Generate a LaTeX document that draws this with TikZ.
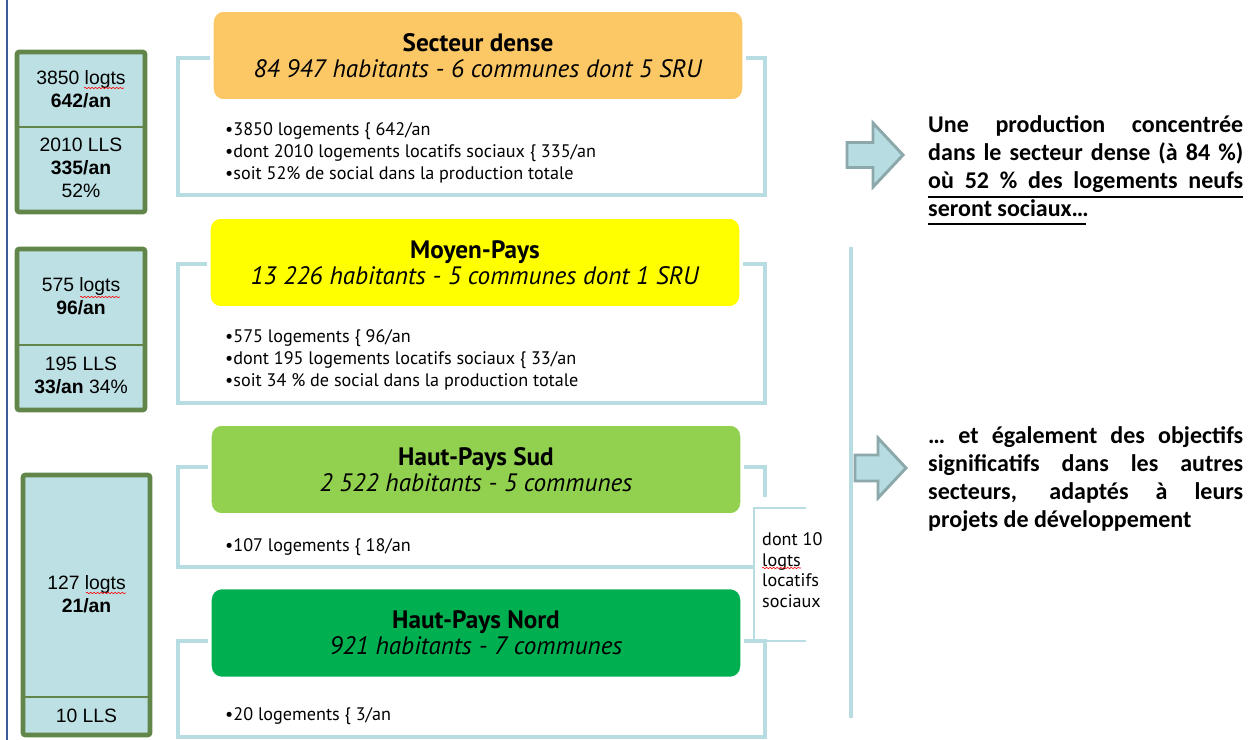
\documentclass[tikz,border=0pt]{standalone}
\usepackage{fontspec}
\setmainfont{PT Sans}
\newfontfamily\arialfont{Liberation Sans}
\newfontfamily\calibrifont{Carlito}
\usetikzlibrary{positioning,calc,decorations.pathmorphing}
\definecolor{framecyan}{RGB}{183,221,226}
\definecolor{boxcyan}{RGB}{189,224,228}
\definecolor{olivegreen}{RGB}{98,133,74}
\definecolor{densorange}{RGB}{252,200,102}
\definecolor{paysyellow}{RGB}{255,255,0}
\definecolor{sudgreen}{RGB}{146,208,80}
\definecolor{nordgreen}{RGB}{0,176,80}
\definecolor{arrowgray}{RGB}{140,168,170}
\definecolor{marginblue}{RGB}{60,92,150}

\begin{document}
\begin{tikzpicture}[
    x=0.03cm, y=-0.03cm,
    frame/.style={draw=framecyan, line width=3pt},
    accolade/.style={draw=framecyan, line width=2.2pt},
    secteur/.style={rounded corners=10pt, draw=white, line width=3pt, minimum width=15.96cm, minimum height=2.73cm, align=center, inner sep=0pt, font=\fontsize{21.5}{22}\selectfont},
    puces/.style={anchor=west, align=left, inner sep=0pt, font=\fontsize{15.5}{18.8}\selectfont},
    bilan/.style={draw=olivegreen, line width=4pt, fill=boxcyan, rounded corners=2pt, minimum width=3.84cm},
    chiffres/.style={align=center, inner sep=0pt, font=\arialfont\fontsize{16.5}{19.6}\selectfont},
    bloc/.style={fill=framecyan, draw=arrowgray, line width=2.5pt},
    souligne/.style={draw=black, line width=1.1pt},
    faute/.style={draw=red, line width=0.5pt, decorate, decoration={snake, amplitude=0.6pt, segment length=3pt}},
    conclusion/.style={anchor=north west, inner sep=0pt, text width=9.45cm, align=justify, font=\calibrifont\bfseries\fontsize{20.5}{24}\selectfont}
]
\useasboundingbox (0,0) rectangle (1259,740);

% marge
\draw[marginblue, line width=1.5pt] (7,0) -- (7,740);

% cadres des secteurs
\draw[frame] (178,58) rectangle (765,195);
\draw[frame] (178,264) rectangle (765,403);
\draw[frame] (754,567) -- (178,567) -- (178,467) -- (765,467) -- (765,497);
\draw[frame] (178,641) rectangle (765,737);
\draw[accolade] (806,508) -- (754,508) -- (754,641) -- (806,641);
\draw[framecyan, line width=4pt] (851,247) -- (851,718);

% Secteurs
\node[secteur, fill=densorange] (dense) at (478,55.5) {\textbf{Secteur dense}\\\textit{84 947 habitants - 6 communes dont 5 SRU}};
\node[secteur, fill=paysyellow] (moyen) at (475,262.5) {\textbf{Moyen-Pays}\\\textit{13 226 habitants - 5 communes dont 1 SRU}};
\node[secteur, fill=sudgreen] (sud) at (476,469.5) {\textbf{Haut-Pays Sud}\\\textit{2 522 habitants - 5 communes}};
\node[secteur, fill=nordgreen] (nord) at (476,633) {\textbf{Haut-Pays Nord}\\\textit{921 habitants - 7 communes}};

\node[puces] (pdense) at (225,153) {\textbullet3850 logements \{ 642/an\\\textbullet dont 2010 logements locatifs sociaux \{ 335/an\\\textbullet soit 52\% de social dans la production totale};
\node[puces] (pmoyen) at (225,360) {\textbullet575 logements \{ 96/an\\\textbullet dont 195 logements locatifs sociaux \{ 33/an\\\textbullet soit 34 \% de social dans la production totale};
\node[puces] (psud) at (225,547) {\textbullet107 logements \{ 18/an};
\node[puces] (pnord) at (225,716) {\textbullet20 logements \{ 3/an};
\node[puces, font=\fontsize{15.5}{17.5}\selectfont] (dontdix) at (762,570) {dont 10\\logts\\locatifs\\sociaux};
\draw[faute] (762,568) -- (801,568);

% Bilans
\node[bilan, minimum height=4.8cm] (bdense) at (81,132) {};
\draw[olivegreen, line width=1pt] (bdense.west |- 0,127) -- (bdense.east |- 0,127);
\node[chiffres] (logdense) at (81,89) {3850 logts\\\textbf{642/an}};
\node[chiffres] (llsdense) at (81,168) {2010 LLS\\\textbf{335/an}\\52\%};
\draw[faute] (84,88) -- (124,88);

\node[bilan, minimum height=4.83cm] (bmoyen) at (81,329.5) {};
\draw[olivegreen, line width=1pt] (bmoyen.west |- 0,345) -- (bmoyen.east |- 0,345);
\node[chiffres] (logmoyen) at (81,296.5) {575 logts\\\textbf{96/an}};
\node[chiffres] (llsmoyen) at (81,375) {195 LLS\\\textbf{33/an} 34\%};
\draw[faute] (80,297) -- (120,297);

\node[bilan, minimum width=3.81cm, minimum height=7.8cm] (bhaut) at (86.5,605) {};
\draw[olivegreen, line width=1pt] (bhaut.west |- 0,697) -- (bhaut.east |- 0,697);
\node[chiffres] (loghaut) at (86.5,594.5) {127 logts\\\textbf{21/an}};
\node[chiffres] (llshaut) at (86.5,716) {10 LLS};
\draw[faute] (86,593) -- (126,593);

% Fleches et conclusions
\draw[bloc] (847,142.5) -- (873,142.5) -- (873,123) -- (903,155) -- (873,187) -- (873,167.5) -- (847,167.5) -- cycle;
\draw[bloc] (855,455) -- (878,455) -- (878,438) -- (906,468) -- (878,498) -- (878,481) -- (855,481) -- cycle;

\node[conclusion] (concldense) at (928,115) {Une production concentrée\linebreak dans le secteur dense (à 84~\%)\linebreak où 52 \% des logements neufs\linebreak seront sociaux…};
\draw[souligne] (concldense.west |- 0,197) -- (concldense.east |- 0,197);
\draw[souligne] (concldense.west |- 0,224) -- (1086,224);
\node[conclusion] (conclautres) at (928,426) {… et également des objectifs\linebreak significatifs dans les autres\linebreak secteurs, adaptés à leurs\linebreak projets de développement};

\end{tikzpicture}
\end{document}
